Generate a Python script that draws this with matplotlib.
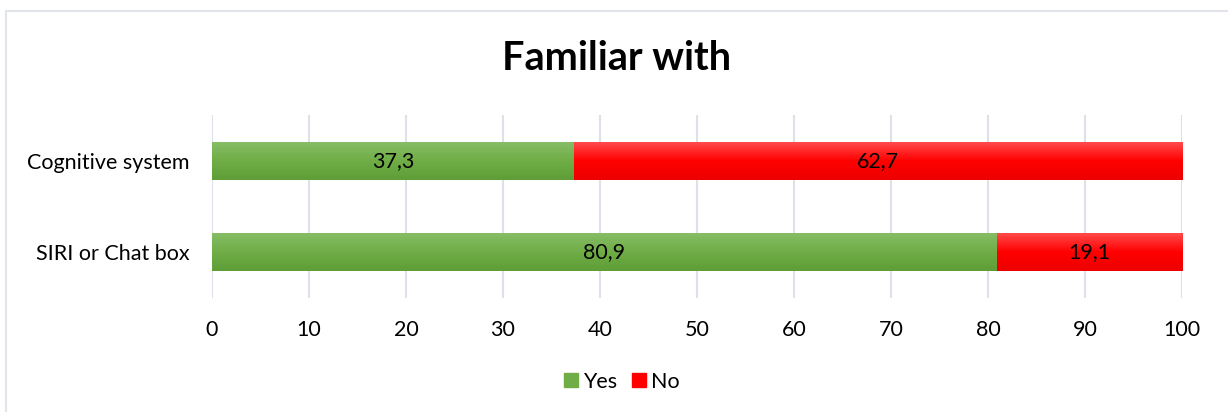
import numpy as np
import matplotlib.pyplot as plt
from matplotlib.patches import Rectangle
from matplotlib.colors import LinearSegmentedColormap

categories = ["SIRI or Chat box", "Cognitive system"]
yes_vals = [80.9, 37.3]
no_vals = [19.1, 62.7]
series_names = ["Yes", "No"]
x_ticks = [0, 10, 20, 30, 40, 50, 60, 70, 80, 90, 100]

plt.rcParams['font.family'] = ['Lato', 'DejaVu Sans']
fs = 15.5

fig = plt.figure(figsize=(12.28, 4.12), dpi=100)
ax = fig.add_axes([212 / 1228, 1 - 298 / 412, 970 / 1228, 183 / 412])

# light frame like the chart-area border
fig.add_artist(Rectangle((6 / 1228, -0.1), 1.2, (1 - 11 / 412) + 0.1,
                         transform=fig.transFigure, fill=False,
                         edgecolor="#E1E4EA", linewidth=1.5))

green = LinearSegmentedColormap.from_list("g", ["#5E9E37", "#70AD47", "#86BD65"])
red = LinearSegmentedColormap.from_list("r", ["#EE0000", "#FF0000", "#FF4A4A"])
h = 0.41
grad = np.linspace(0, 1, 64).reshape(-1, 1)

ypos = np.arange(len(categories))
for i, y in enumerate(ypos):
    segs = [(0, yes_vals[i], green, "#70AD47"), (yes_vals[i], no_vals[i], red, "#FF0000")]
    for left, width, cmap, col in segs:
        b = ax.barh(y, width, left=left, height=h, color=col, zorder=2)
        im = ax.imshow(grad, cmap=cmap, aspect="auto", origin="lower",
                       extent=[left, left + width, y - h / 2, y + h / 2], zorder=3)
        im.set_clip_path(b.patches[0])
        ax.text(left + width / 2, y, str(width).replace(".", ","), ha="center",
                va="center", fontsize=fs, color="black", zorder=4)

ax.set_xlim(0, 100)
ax.set_ylim(-0.5, 1.5)
ax.set_xticks(x_ticks)
ax.set_xticklabels([str(t) for t in x_ticks], fontsize=fs)
ax.set_yticks(ypos)
ax.set_yticklabels(categories, fontsize=fs)
ax.tick_params(length=0, pad=16, axis="y")
ax.tick_params(length=0, pad=16, axis="x")
ax.grid(axis="x", color="#DDE2EA", linewidth=1.5, zorder=0)
ax.set_axisbelow(True)
for s in ax.spines.values():
    s.set_visible(False)

fig.text(617 / 1228, 1 - 59 / 412, "Familiar with", ha="center", va="center",
         fontsize=28.5, fontweight="bold")

handles = [Rectangle((0, 0), 1, 1, color="#70AD47"), Rectangle((0, 0), 1, 1, color="#FF0000")]
fig.legend(handles, series_names, loc="center", bbox_to_anchor=(622 / 1228, 1 - 382 / 412),
           ncol=2, frameon=False, fontsize=fs, handlelength=0.62, handleheight=0.62,
           handletextpad=0.25, columnspacing=0.7)

fig.savefig("out.png", dpi=100)
